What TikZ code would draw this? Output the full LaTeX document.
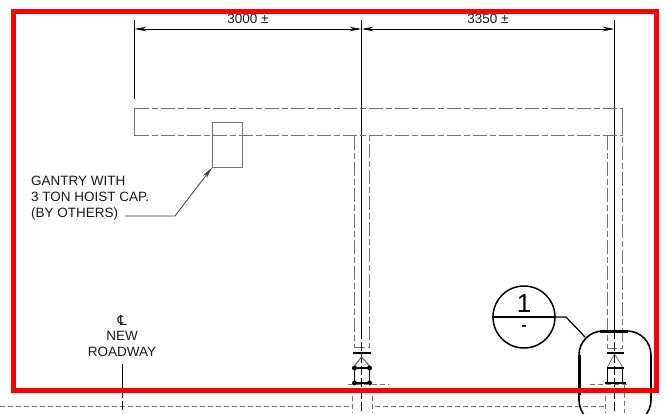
\documentclass[tikz,border=0pt]{standalone}
\usepackage{fontspec}
\setmainfont{Liberation Sans}
\newfontfamily\symfont{DejaVu Sans}
\usetikzlibrary{arrows.meta,positioning}

\begin{document}
\begin{tikzpicture}[x=1pt,y=-1pt,>={Stealth[length=12pt,width=4.5pt]}]
  \tikzstyle{label}=[inner sep=0pt,font=\fontsize{13.5}{16}\selectfont,text=black!90]
  \tikzstyle{dimline}=[black,line width=1pt]
  \tikzstyle{outline}=[black!55,line width=0.8pt]
  \tikzstyle{broken}=[outline,dash pattern=on 14pt off 3pt on 6pt off 3pt]
  \tikzstyle{hidden}=[outline,dash pattern=on 5pt off 3pt]
  \tikzstyle{centre}=[black,line width=0.9pt,dash pattern=on 9pt off 3pt]
  \tikzstyle{flange}=[black,line width=2.4pt]
  \tikzstyle{detail}=[black,line width=1.2pt]

  \useasboundingbox (0,0) rectangle (665,413);
  \fill[white] (0,0) rectangle (665,413);

  % dimensions
  \coordinate (d0) at (134.5,29);
  \coordinate (d1) at (361.5,29);
  \coordinate (d2) at (614.5,29);
  \draw[dimline] (134.5,20) -- (134.5,99);
  \draw[dimline] (361.5,20) -- (361.5,330);
  \draw[dimline] (614.5,20) -- (614.5,330);
  \draw[dimline,<->] (d0) -- (d1);
  \draw[dimline,<->] (d1) -- (d2);
  \node[label] (dimA) at (248,18.5) {3000 ±};
  \node[label] (dimB) at (488,18.5) {3350 ±};

  % gantry beam
  \draw[broken] (134.5,108) -- (622.5,108);
  \draw[broken] (134.5,135.5) -- (622.5,135.5);
  \draw[outline] (134.5,108) -- (134.5,135.5);
  \draw[outline] (622.5,108) -- (622.5,135.5);

  % hoist
  \node[outline,draw,minimum width=30pt,minimum height=44.5pt,inner sep=0pt] (hoist) at (227.5,144.75) {};
  \node[label,align=left,anchor=north west] (gantry) at (31,176) {GANTRY WITH\\3 TON HOIST CAP.\\(BY OTHERS)};
  \coordinate (elbow) at (175,216);
  \draw[black!75,line width=0.8pt,->] (125,216) -- (elbow) -- (hoist.south west);

  % left column
  \begin{scope}[xshift=361.5pt]
    \draw[broken] (-7,135.5) -- (-7,347) -- (8,347) -- (8,135.5);
    \draw[centre] (0,330) -- (0,413);
    \draw[flange] (-9,353) -- (9,353);
    \draw[detail] (-7,368) -- (8,368);
    \draw[detail,black!60] (0,357) -- (-7,366);
    \draw[detail,black!60] (0,357) -- (8,366);
    \draw[detail] (-7,368) -- (-7,383);
    \draw[detail] (8,368) -- (8,383);
    \fill (-7,368) circle (2.5);
    \fill (8,368) circle (2.5);
    \fill (-7,383) circle (2.5);
    \fill (8,383) circle (2.5);
    \draw[flange] (-9,383) -- (10,383);
    \draw[hidden] (-14,384.5) -- (27,384.5);
    \draw[hidden] (-9,388) -- (-9,413);
    \draw[hidden] (11,388) -- (11,413);
  \end{scope}

  % right column
  \begin{scope}[xshift=614.5pt]
    \draw[broken] (-7,135.5) -- (-7,348) -- (8,348) -- (8,135.5);
    \draw[centre] (0,330) -- (0,413);
    \draw[flange] (-8,353) -- (9,353);
    \draw[outline] (0,354) -- (-7,367);
    \draw[outline] (0,354) -- (8,367);
    \draw[flange] (-8,368) -- (9,368);
    \draw[detail] (-7,368) -- (-7,383);
    \draw[detail] (8,368) -- (8,383);
    \draw[flange] (-10,383) -- (11,383);
    \draw[hidden] (-25,384.5) -- (14,384.5);
    \draw[hidden] (-9,388) -- (-9,413);
    \draw[hidden] (10,385) -- (10,413);
  \end{scope}

  % ground line and roadway centre
  \draw[hidden] (0,406) -- (350,406);
  \draw[hidden] (375,406) -- (605,406);
  \node[label,font=\symfont\fontsize{14}{14}\selectfont] (cl) at (122,320) {℄};
  \node[label] (road1) at (122,336) {NEW};
  \node[label] (road2) at (122,352) {ROADWAY};
  \coordinate (roadend) at (122,413);
  \draw[centre,dash pattern=on 25pt off 3pt on 6pt off 3pt on 9pt off 3pt] (road2.south |- 0,364) -- (roadend);

  % section callout
  \node[circle,draw=black,line width=1.5pt,minimum size=62pt,inner sep=0pt] (callout) at (524,317) {};
  \draw[black,line width=2.6pt] (callout.west) -- (callout.east);
  \node[inner sep=0pt,font=\fontsize{26}{26}\selectfont] (secnum) at (524,304) {1};
  \node[inner sep=0pt,font=\bfseries\fontsize{16}{16}\selectfont] (secref) at (524,328) {-};
  \coordinate (bend) at (566,317);
  \coordinate (lens) at (585,337);
  \draw[black,line width=1.2pt] (callout.east) -- (bend) -- (lens);

  % detail outline
  \draw[black,line width=1.6pt,rounded corners=24pt] (579,331) rectangle (651,424);
  \draw[black,line width=3pt] (600,331) -- (628,331);
  \draw[black,line width=3pt] (579,355) -- (579,395);

  % frame
  \draw[red,line width=5pt] (13.5,11.5) rectangle (656.5,390.5);
\end{tikzpicture}
\end{document}
